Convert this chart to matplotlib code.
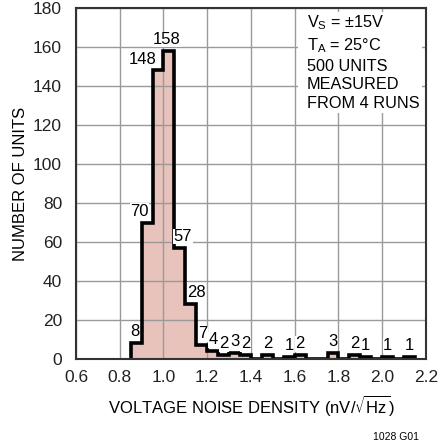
import matplotlib
matplotlib.use('Agg')
import matplotlib.pyplot as plt
import matplotlib.patches as patches
import numpy as np

# histogram bins (left edges, nV/rtHz) and unit counts
bin_left = [0.85, 0.90, 0.95, 1.00, 1.05, 1.10, 1.15, 1.20, 1.25, 1.30, 1.35,
            1.40, 1.45, 1.50, 1.55, 1.60, 1.65, 1.70, 1.75, 1.80, 1.85, 1.90,
            1.95, 2.00, 2.05, 2.10]
counts = [8, 70, 148, 158, 57, 28, 7, 4, 2, 3, 2,
          0, 2, 0, 1, 2, 0, 0, 3, 0, 2, 1,
          0, 1, 0, 1]
bin_w = 0.05
# label nudges (x offset in data units) for the crowded peak
label_dx = {0: -0.005, 1: -0.035, 2: -0.07, 3: -0.012, 4: 0.014, 5: 0.025,
            6: 0.005, 7: 0.003}

plt.rcParams['font.family'] = ['Liberation Sans Narrow', 'Liberation Sans', 'DejaVu Sans']

fig = plt.figure(figsize=(4.38, 4.48), dpi=100)
ax = fig.add_axes([0.1735, 0.1987, 0.799, 0.7833])

edges = np.array(bin_left + [bin_left[-1] + bin_w])
vals = np.array(counts)
ax.stairs(vals, edges, fill=True, color='#e8c3bb', zorder=1)
ax.stairs(vals, edges, color='black', linewidth=2.6, zorder=3)

for i, (x0, c) in enumerate(zip(bin_left, counts)):
    if c == 0:
        continue
    xc = x0 + bin_w / 2 + label_dx.get(i, 0)
    ax.text(xc, c + 2.0, str(c), ha='center', va='bottom', fontsize=12,
            zorder=4, bbox=dict(facecolor='white', edgecolor='none', pad=0.2))

# white panel behind the conditions text
ax.add_patch(patches.Rectangle((0.635, 0.70), 0.355, 0.29, transform=ax.transAxes,
                               facecolor='white', edgecolor='none', zorder=4))
ax.text(0.66, 0.985, 'V$_\\mathregular{S}$ = ±15V\nT$_\\mathregular{A}$ = 25°C\n500 UNITS\nMEASURED\nFROM 4 RUNS',
        transform=ax.transAxes, ha='left', va='top', fontsize=11.7,
        linespacing=1.3, zorder=5)

ax.set_xlim(0.6, 2.2)
ax.set_ylim(0, 180)
ax.set_xticks(np.arange(0.6, 2.21, 0.2))
ax.set_xticklabels(['0.6', '0.8', '1.0', '1.2', '1.4', '1.6', '1.8', '2.0', '2.2'])
ax.set_yticks(np.arange(0, 181, 20))
ax.tick_params(length=0, labelsize=12.5, colors='#222222')
ax.tick_params(axis='x', pad=8)
ax.tick_params(axis='y', pad=10)
ax.set_axisbelow(False)
ax.grid(True, color='#9a9a9a', linewidth=1.0, zorder=2)
for s in ax.spines.values():
    s.set_linewidth(1.5)
    s.set_color('#333333')
    s.set_zorder(6)

ax.set_xlabel('VOLTAGE NOISE DENSITY (nV/$\\mathregular{\\sqrt{Hz}}$)', fontsize=12, labelpad=6)
ax.set_ylabel('NUMBER OF UNITS', fontsize=12, labelpad=4)

fig.text(0.905, 0.025, '1028 G01', ha='center', va='center', fontsize=7.5)

fig.savefig('out.png', dpi=100)
